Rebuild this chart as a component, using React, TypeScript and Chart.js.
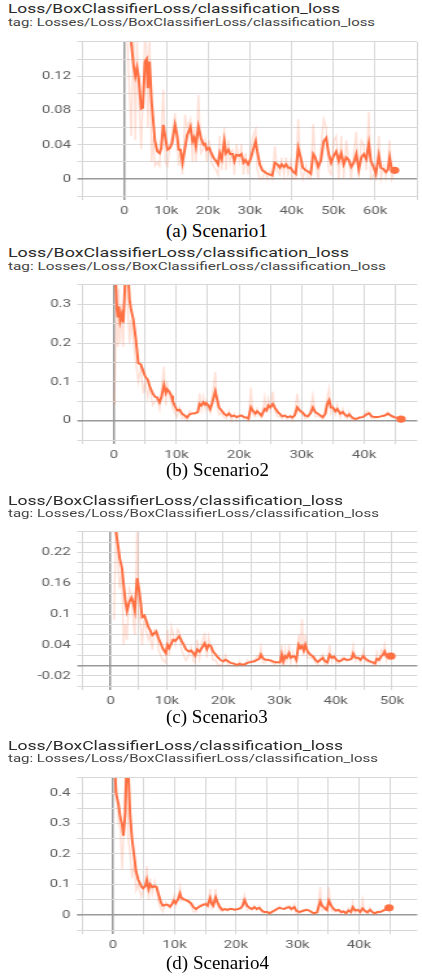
import { useEffect, useRef } from "react";
import { Chart, registerables } from "chart.js";

Chart.register(...registerables);

// ---------------- Scenario 1 ----------------
const s1StepK = [
  0.4, 1.6, 2.2, 2.6, 3.0, 3.4, 4.0, 4.4, 4.9, 5.3,
  5.6, 6.0, 6.5, 6.9, 7.3, 7.9, 8.4, 8.8, 9.3, 9.8,
  10.3, 10.9, 11.4, 12.1, 12.6, 13.0, 13.4, 13.9, 14.5, 15.0,
  15.8, 16.3, 16.7, 17.1, 17.7, 18.3, 18.9, 19.3, 19.7, 20.3,
  20.8, 21.3, 21.9, 22.4, 22.8, 23.3, 23.9, 24.3, 24.9, 25.3,
  25.9, 26.3, 26.8, 27.5, 28.0, 28.5, 29.0, 29.6, 30.2, 30.8,
  31.4, 31.8, 32.4, 33.0, 33.6, 34.2, 34.8, 35.4, 36.0, 36.6,
  37.2, 37.6, 38.2, 38.7, 39.2, 39.8, 40.3, 41.0, 41.6, 42.2,
  42.7, 43.4, 43.9, 44.6, 45.2, 45.7, 46.4, 47.0, 47.7, 48.3,
  48.9, 49.5, 50.1, 50.7, 51.3, 51.9, 52.5, 53.1, 53.7, 54.3,
  54.9, 55.5, 56.1, 56.7, 57.3, 57.9, 58.5, 59.0, 59.7, 60.2,
  60.9, 61.4, 62.1, 62.6, 63.1, 63.5, 64.0, 64.7,
];
const s1Smoothed = [
  0.26, 0.16, 0.131, 0.12, 0.13, 0.118, 0.082, 0.083, 0.137, 0.14,
  0.106, 0.137, 0.09, 0.067, 0.044, 0.032, 0.03, 0.036, 0.063, 0.048,
  0.034, 0.036, 0.042, 0.063, 0.051, 0.034, 0.034, 0.019, 0.036, 0.051,
  0.061, 0.044, 0.048, 0.038, 0.061, 0.048, 0.04, 0.041, 0.034, 0.036,
  0.03, 0.025, 0.021, 0.017, 0.03, 0.023, 0.044, 0.03, 0.034, 0.029,
  0.029, 0.021, 0.028, 0.027, 0.029, 0.019, 0.022, 0.017, 0.023, 0.034,
  0.044, 0.032, 0.017, 0.01, 0.008, 0.006, 0.005, 0.004, 0.019, 0.017,
  0.013, 0.017, 0.014, 0.017, 0.013, 0.013, 0.009, 0.006, 0.036, 0.025,
  0.013, 0.01, 0.009, 0.006, 0.029, 0.025, 0.014, 0.021, 0.044, 0.048,
  0.029, 0.019, 0.027, 0.032, 0.021, 0.03, 0.017, 0.025, 0.022, 0.014,
  0.019, 0.029, 0.011, 0.025, 0.029, 0.023, 0.041, 0.021, 0.013, 0.006,
  0.027, 0.013, 0.011, 0.008, 0.011, 0.025, 0.011, 0.01,
];
const s1Raw = [
  0.2, 0.05, 0.17, 0.045, 0.16, 0.1, 0.035, 0.09, 0.17, 0.15,
  0.06, 0.17, 0.02, 0.05, 0.015, 0.02, 0.015, 0.05, 0.104, 0.02,
  0.015, 0.04, 0.05, 0.077, 0.04, 0.015, 0.035, 0.005, 0.075, 0.06,
  0.07, 0.02, 0.06, 0.02, 0.098, 0.03, 0.035, 0.045, 0.02, 0.045,
  0.02, 0.015, 0.01, 0.005, 0.05, 0.01, 0.06, 0.01, 0.045, 0.02,
  0.035, 0.005, 0.04, 0.02, 0.04, 0.005, 0.03, 0.005, 0.035, 0.05,
  0.058, 0.01, 0.0, 0.0, 0.01, 0.0, 0.008, 0.0, 0.038, 0.01,
  0.005, 0.025, 0.005, 0.025, 0.005, 0.02, 0.0, 0.0, 0.07, 0.01,
  0.0, 0.015, 0.002, 0.0, 0.064, 0.02, 0.0, 0.035, 0.07, 0.06,
  0.01, 0.005, 0.045, 0.05, 0.0, 0.05, 0.0, 0.045, 0.02, 0.0,
  0.03, 0.055, 0.0, 0.045, 0.04, 0.01, 0.078, 0.0, 0.005, 0.0,
  0.05, 0.0, 0.015, 0.002, 0.02, 0.045, 0.0, 0.01,
];
const s1XTickValues = [0, 10000, 20000, 30000, 40000, 50000, 60000];
const s1XTickLabels = ["0", "10k", "20k", "30k", "40k", "50k", "60k"];
const s1YTickValues = [0, 0.04, 0.08, 0.12];
const s1YTickLabels = ["0", "0.04", "0.08", "0.12"];

// ---------------- Scenario 2 ----------------
const s2StepK = [
  0.1, 0.47, 0.63, 0.79, 1.0, 1.26, 1.5, 1.8, 2.2, 2.5,
  2.7, 3.1, 3.5, 3.9, 4.3, 4.7, 5.0, 5.4, 5.7, 6.2,
  6.6, 6.9, 7.3, 7.6, 8.0, 8.3, 8.5, 8.8, 9.2, 9.4,
  9.7, 10.1, 10.5, 10.9, 11.3, 11.7, 12.1, 12.5, 13.0, 13.4,
  13.7, 14.0, 14.3, 14.6, 14.8, 15.1, 15.4, 15.7, 16.2, 16.5,
  16.8, 17.2, 17.6, 18.0, 18.4, 18.8, 19.2, 19.6, 19.9, 20.4,
  20.8, 21.2, 21.5, 21.9, 22.2, 22.6, 22.9, 23.3, 23.6, 24.1,
  24.4, 24.7, 25.0, 25.4, 25.7, 26.2, 26.6, 26.9, 27.3, 27.7,
  28.2, 28.5, 28.9, 29.3, 29.7, 30.1, 30.6, 31.0, 31.4, 31.8,
  32.2, 32.6, 33.0, 33.4, 33.8, 34.1, 34.4, 34.7, 35.0, 35.4,
  35.7, 36.2, 36.6, 36.9, 37.3, 37.6, 38.0, 38.4, 38.8, 39.3,
  39.8, 40.4, 40.8, 41.2, 41.7, 42.2, 42.7, 43.3, 43.8, 44.3,
  44.8, 45.4, 45.9,
];
const s2Smoothed = [
  0.42, 0.287, 0.266, 0.295, 0.257, 0.274, 0.253, 0.36, 0.4, 0.312,
  0.29, 0.261, 0.211, 0.148, 0.145, 0.127, 0.114, 0.106, 0.089, 0.07,
  0.061, 0.06, 0.047, 0.06, 0.092, 0.072, 0.081, 0.076, 0.064, 0.051,
  0.039, 0.026, 0.028, 0.018, 0.013, 0.008, 0.016, 0.018, 0.019, 0.022,
  0.043, 0.039, 0.047, 0.041, 0.045, 0.039, 0.03, 0.045, 0.076, 0.055,
  0.034, 0.026, 0.018, 0.013, 0.018, 0.011, 0.013, 0.009, 0.011, 0.013,
  0.009, 0.008, 0.005, 0.034, 0.026, 0.018, 0.024, 0.018, 0.013, 0.03,
  0.026, 0.039, 0.034, 0.043, 0.034, 0.022, 0.016, 0.011, 0.013, 0.009,
  0.011, 0.008, 0.013, 0.034, 0.026, 0.022, 0.013, 0.011, 0.018, 0.034,
  0.022, 0.018, 0.013, 0.009, 0.018, 0.043, 0.053, 0.034, 0.034, 0.024,
  0.03, 0.018, 0.022, 0.016, 0.011, 0.016, 0.009, 0.005, 0.005, 0.008,
  0.009, 0.016, 0.019, 0.011, 0.009, 0.009, 0.011, 0.013, 0.018, 0.013,
  0.009, 0.007, 0.004,
];
const s2Raw = [
  0.04, 0.35, 0.19, 0.34, 0.2, 0.3, 0.19, 0.4, 0.3, 0.2,
  0.26, 0.21, 0.15, 0.1, 0.14, 0.07, 0.1, 0.06, 0.09, 0.04,
  0.05, 0.055, 0.03, 0.08, 0.139, 0.04, 0.1, 0.065, 0.045, 0.03,
  0.02, 0.01, 0.035, 0.005, 0.008, 0.0, 0.025, 0.02, 0.02, 0.025,
  0.07, 0.03, 0.06, 0.03, 0.05, 0.03, 0.02, 0.06, 0.125, 0.04,
  0.015, 0.02, 0.008, 0.005, 0.025, 0.0, 0.018, 0.003, 0.015, 0.016,
  0.004, 0.007, 0.0, 0.085, 0.015, 0.01, 0.03, 0.012, 0.008, 0.06,
  0.02, 0.055, 0.03, 0.075, 0.025, 0.01, 0.01, 0.005, 0.016, 0.004,
  0.013, 0.0, 0.02, 0.07, 0.02, 0.018, 0.005, 0.008, 0.025, 0.065,
  0.01, 0.012, 0.008, 0.003, 0.03, 0.06, 0.083, 0.02, 0.035, 0.015,
  0.04, 0.008, 0.03, 0.01, 0.005, 0.022, 0.002, 0.0, 0.004, 0.01,
  0.01, 0.025, 0.022, 0.005, 0.006, 0.008, 0.013, 0.015, 0.022, 0.01,
  0.006, 0.005, 0.003,
];
const s2XTickValues = [0, 10000, 20000, 30000, 40000];
const s2XTickLabels = ["0", "10k", "20k", "30k", "40k"];
const s2YTickValues = [0, 0.1, 0.2, 0.3];
const s2YTickLabels = ["0", "0.1", "0.2", "0.3"];

// ---------------- Scenario 3 ----------------
const s3StepK = [
  0.6, 1.0, 1.3, 1.6, 2.0, 2.3, 2.6, 2.9, 3.3, 3.7,
  4.0, 4.3, 4.7, 5.0, 5.3, 5.6, 6.0, 6.3, 6.7, 7.0,
  7.4, 7.7, 8.1, 8.5, 8.9, 9.3, 9.8, 10.1, 10.4, 10.8,
  11.1, 11.5, 11.9, 12.2, 12.6, 13.0, 13.4, 13.9, 14.3, 14.7,
  15.0, 15.4, 15.8, 16.2, 16.7, 17.1, 17.4, 17.8, 18.2, 18.7,
  19.1, 19.6, 20.0, 20.4, 20.9, 21.3, 21.8, 22.2, 22.5, 22.9,
  23.3, 23.8, 24.3, 24.7, 25.1, 25.6, 26.0, 26.4, 26.7, 27.0,
  27.4, 27.9, 28.4, 28.8, 29.2, 29.6, 30.1, 30.4, 30.7, 31.0,
  31.3, 31.7, 32.0, 32.4, 32.7, 33.0, 33.4, 33.7, 34.0, 34.3,
  34.6, 35.0, 35.5, 36.0, 36.4, 36.8, 37.2, 37.7, 38.1, 38.5,
  38.9, 39.3, 39.7, 40.2, 40.6, 41.0, 41.5, 41.9, 42.4, 42.8,
  43.1, 43.5, 44.0, 44.4, 44.9, 45.3, 45.7, 46.1, 46.6, 47.0,
  47.3, 47.7, 48.1, 48.4, 48.7, 49.0, 49.4, 49.8,
];
const s3Smoothed = [
  0.3, 0.256, 0.234, 0.209, 0.19, 0.158, 0.126, 0.106, 0.123, 0.132,
  0.123, 0.107, 0.17, 0.151, 0.126, 0.094, 0.097, 0.088, 0.075, 0.069,
  0.059, 0.062, 0.066, 0.053, 0.043, 0.032, 0.024, 0.04, 0.034, 0.043,
  0.05, 0.048, 0.053, 0.057, 0.048, 0.04, 0.031, 0.027, 0.029, 0.024,
  0.019, 0.031, 0.027, 0.034, 0.043, 0.032, 0.04, 0.038, 0.027, 0.021,
  0.015, 0.01, 0.008, 0.011, 0.008, 0.005, 0.004, 0.002, 0.001, 0.003,
  0.002, 0.002, 0.005, 0.006, 0.007, 0.008, 0.011, 0.013, 0.021, 0.015,
  0.011, 0.011, 0.01, 0.008, 0.006, 0.006, 0.006, 0.021, 0.008, 0.018,
  0.015, 0.024, 0.015, 0.018, 0.017, 0.011, 0.04, 0.034, 0.038, 0.029,
  0.04, 0.027, 0.021, 0.017, 0.011, 0.007, 0.01, 0.015, 0.008, 0.006,
  0.021, 0.015, 0.017, 0.01, 0.008, 0.01, 0.013, 0.011, 0.011, 0.013,
  0.023, 0.015, 0.015, 0.011, 0.018, 0.013, 0.01, 0.008, 0.006, 0.004,
  0.013, 0.011, 0.018, 0.021, 0.027, 0.018, 0.021, 0.018,
];
const s3Raw = [
  0.088, 0.3, 0.2, 0.15, 0.18, 0.04, 0.08, 0.05, 0.15, 0.14,
  0.09, 0.06, 0.28, 0.1, 0.08, 0.04, 0.1, 0.07, 0.05, 0.06,
  0.03, 0.07, 0.07, 0.03, 0.02, 0.01, 0.005, 0.07, 0.02, 0.075,
  0.06, 0.04, 0.07, 0.065, 0.03, 0.02, 0.01, 0.02, 0.035, 0.01,
  0.005, 0.05, 0.015, 0.045, 0.06, 0.015, 0.055, 0.035, 0.01, 0.01,
  0.0, 0.0, 0.005, 0.02, 0.0, 0.0, 0.0, -0.002, -0.002, 0.008,
  0.0, 0.0, 0.01, 0.008, 0.01, 0.01, 0.018, 0.018, 0.035, 0.005,
  0.005, 0.01, 0.008, 0.004, 0.002, 0.006, 0.004, 0.04, 0.0, 0.03,
  0.01, 0.04, 0.005, 0.025, 0.015, 0.003, 0.06, 0.03, 0.09, 0.02,
  0.06, 0.015, 0.015, 0.012, 0.005, 0.002, 0.015, 0.022, 0.002, 0.002,
  0.04, 0.008, 0.02, 0.004, 0.004, 0.014, 0.017, 0.008, 0.011, 0.016,
  0.038, 0.008, 0.016, 0.006, 0.028, 0.008, 0.006, 0.005, 0.003, 0.0,
  0.025, 0.008, 0.03, 0.025, 0.04, 0.01, 0.025, 0.015,
];
const s3XTickValues = [0, 10000, 20000, 30000, 40000, 50000];
const s3XTickLabels = ["0", "10k", "20k", "30k", "40k", "50k"];
const s3YTickValues = [-0.02, 0.04, 0.1, 0.16, 0.22];
const s3YTickLabels = ["-0.02", "0.04", "0.1", "0.16", "0.22"];

// ---------------- Scenario 4 ----------------
const s4StepK = [
  0.27, 0.5, 0.9, 1.2, 1.5, 1.7, 2.0, 2.2, 2.5, 2.8,
  3.1, 3.5, 3.75, 4.1, 4.6, 4.9, 5.25, 5.5, 5.8, 6.05,
  6.4, 6.8, 7.1, 7.4, 7.8, 8.1, 8.6, 8.9, 9.3, 9.6,
  9.9, 10.2, 10.6, 10.9, 11.1, 11.5, 11.9, 12.3, 12.7, 13.1,
  13.5, 13.9, 14.4, 14.7, 15.1, 15.4, 15.8, 16.1, 16.3, 16.7,
  17.0, 17.4, 17.8, 18.2, 18.6, 19.0, 19.4, 19.8, 20.4, 20.8,
  21.1, 21.4, 21.8, 22.2, 22.6, 23.0, 23.4, 23.8, 24.2, 24.6,
  25.1, 25.5, 25.8, 26.3, 26.7, 27.1, 27.4, 27.9, 28.2, 28.7,
  29.0, 29.5, 29.8, 30.3, 30.6, 31.1, 31.5, 31.9, 32.3, 32.7,
  33.2, 33.7, 34.0, 34.3, 34.6, 34.8, 35.1, 35.5, 35.9, 36.3,
  36.7, 37.1, 37.5, 37.9, 38.3, 38.7, 39.0, 39.4, 39.8, 40.2,
  40.6, 40.9, 41.4, 41.8, 42.2, 42.6, 43.0, 43.4, 43.8, 44.2,
  44.6, 44.9,
];
const s4Smoothed = [
  0.5, 0.4, 0.362, 0.319, 0.293, 0.26, 0.335, 0.48, 0.47, 0.325,
  0.25, 0.185, 0.143, 0.116, 0.094, 0.087, 0.094, 0.114, 0.084, 0.1,
  0.091, 0.094, 0.091, 0.068, 0.041, 0.03, 0.033, 0.033, 0.027, 0.035,
  0.046, 0.038, 0.051, 0.07, 0.057, 0.051, 0.048, 0.044, 0.038, 0.025,
  0.019, 0.025, 0.03, 0.033, 0.035, 0.03, 0.055, 0.035, 0.03, 0.057,
  0.041, 0.025, 0.016, 0.019, 0.016, 0.019, 0.019, 0.017, 0.019, 0.022,
  0.03, 0.048, 0.03, 0.023, 0.019, 0.025, 0.019, 0.023, 0.014, 0.009,
  0.009, 0.005, 0.009, 0.014, 0.019, 0.023, 0.021, 0.019, 0.023, 0.025,
  0.019, 0.025, 0.014, 0.009, 0.011, 0.014, 0.016, 0.014, 0.009, 0.005,
  0.008, 0.044, 0.03, 0.025, 0.019, 0.016, 0.046, 0.03, 0.019, 0.014,
  0.016, 0.009, 0.011, 0.005, 0.014, 0.009, 0.025, 0.014, 0.016, 0.009,
  0.021, 0.014, 0.008, 0.016, 0.009, 0.005, 0.009, 0.009, 0.012, 0.016,
  0.019, 0.023,
];
const s4Raw = [
  0.4, 0.45, 0.3, 0.28, 0.15, 0.25, 0.45, 0.5, 0.25, 0.2,
  0.12, 0.17, 0.08, 0.1, 0.06, 0.08, 0.1, 0.16, 0.05, 0.12,
  0.07, 0.11, 0.08, 0.04, 0.02, 0.01, 0.04, 0.03, 0.02, 0.04,
  0.06, 0.03, 0.06, 0.09, 0.045, 0.05, 0.045, 0.04, 0.03, 0.01,
  0.01, 0.03, 0.035, 0.035, 0.04, 0.025, 0.085, 0.02, 0.025, 0.085,
  0.03, 0.015, 0.01, 0.022, 0.012, 0.022, 0.018, 0.015, 0.022, 0.025,
  0.04, 0.065, 0.015, 0.02, 0.015, 0.03, 0.015, 0.028, 0.008, 0.005,
  0.01, 0.002, 0.012, 0.018, 0.024, 0.028, 0.02, 0.018, 0.028, 0.03,
  0.014, 0.035, 0.005, 0.005, 0.013, 0.017, 0.019, 0.012, 0.005, 0.002,
  0.01, 0.091, 0.015, 0.02, 0.015, 0.013, 0.09, 0.015, 0.01, 0.01,
  0.018, 0.004, 0.013, 0.002, 0.022, 0.005, 0.04, 0.005, 0.018, 0.004,
  0.05, 0.008, 0.004, 0.024, 0.004, 0.002, 0.012, 0.009, 0.015, 0.02,
  0.022, 0.026,
];
const s4XTickValues = [0, 10000, 20000, 30000, 40000];
const s4XTickLabels = ["0", "10k", "20k", "30k", "40k"];
const s4YTickValues = [0, 0.1, 0.2, 0.3, 0.4];
const s4YTickLabels = ["0", "0.1", "0.2", "0.3", "0.4"];

// ---------------- shared text ----------------
const TITLE = "Loss/BoxClassifierLoss/classification_loss";
const TAG = "tag: Losses/Loss/BoxClassifierLoss/classification_loss";

// ---------------- styling / layout ----------------
const CW = 325; // internal canvas width (screenshots are stretched horizontally)
const SX = 422 / CW;
const PAD = 8;
const XH = 24;
const ORANGE = "#ff7043";
const RAW = "rgba(255,112,67,0.22)";
const GRID = "#d8d8d8";
const ZERO = "#999999";
const TICK_COLOR = "#5f5f5f";
const SANS = "Roboto, 'Liberation Sans', Arial, sans-serif";
const SERIF = "'Liberation Serif', 'Times New Roman', serif";

type Panel = {
  stepK: number[]; smooth: number[]; raw: number[];
  xTicks: number[]; xLabels: string[]; yTicks: number[]; yLabels: string[];
  caption: string;
  xMin: number; xMax: number; xStep: number; yMin: number; yMax: number; yStep: number;
  plotTop: number; plotBottom: number; plotLeft: number; plotRight: number;
  titleLeft: number; titleBase: number; titleW: number; tagBase: number; tagW: number;
  capBase: number; capLeft: number;
};

const PANELS: Panel[] = [
  {
    stepK: s1StepK, smooth: s1Smoothed, raw: s1Raw,
    xTicks: s1XTickValues, xLabels: s1XTickLabels, yTicks: s1YTickValues, yLabels: s1YTickLabels,
    caption: "(a) Scenario1",
    xMin: -10000, xMax: 70000, xStep: 10000, yMin: -0.02, yMax: 0.16, yStep: 0.02,
    plotTop: 38, plotBottom: 196, plotLeft: 82.7, plotRight: 420,
    titleLeft: 8.3, titleBase: 13.3, titleW: 332, tagBase: 26.7, tagW: 367, capBase: 236.6, capLeft: 166,
  },
  {
    stepK: s2StepK, smooth: s2Smoothed, raw: s2Raw,
    xTicks: s2XTickValues, xLabels: s2XTickLabels, yTicks: s2YTickValues, yLabels: s2YTickLabels,
    caption: "(b) Scenario2",
    xMin: -5000, xMax: 48500, xStep: 5000, yMin: -0.05, yMax: 0.35, yStep: 0.05,
    plotTop: 281, plotBottom: 440, plotLeft: 82.6, plotRight: 421.5,
    titleLeft: 7.5, titleBase: 256.7, titleW: 341, tagBase: 270, tagW: 378, capBase: 475.9, capLeft: 166,
  },
  {
    stepK: s3StepK, smooth: s3Smoothed, raw: s3Raw,
    xTicks: s3XTickValues, xLabels: s3XTickLabels, yTicks: s3YTickValues, yLabels: s3YTickLabels,
    caption: "(c) Scenario3",
    xMin: -5000, xMax: 54500, xStep: 5000, yMin: -0.04, yMax: 0.26, yStep: 0.02,
    plotTop: 528, plotBottom: 686, plotLeft: 82.5, plotRight: 421.7,
    titleLeft: 8.3, titleBase: 505, titleW: 335, tagBase: 517.3, tagW: 371, capBase: 723.2, capLeft: 166,
  },
  {
    stepK: s4StepK, smooth: s4Smoothed, raw: s4Raw,
    xTicks: s4XTickValues, xLabels: s4XTickLabels, yTicks: s4YTickValues, yLabels: s4YTickLabels,
    caption: "(d) Scenario4",
    xMin: -5000, xMax: 49500, xStep: 5000, yMin: -0.05, yMax: 0.45, yStep: 0.05,
    plotTop: 774, plotBottom: 930, plotLeft: 82.2, plotRight: 421.2,
    titleLeft: 8.3, titleBase: 750, titleW: 335, tagBase: 762.3, tagW: 370, capBase: 969.2, capLeft: 166,
  },
];

let measureCtx: CanvasRenderingContext2D | null = null;
function textWidth(text: string, font: string): number {
  if (!measureCtx) measureCtx = document.createElement("canvas").getContext("2d");
  if (!measureCtx) return 1;
  measureCtx.font = font;
  return measureCtx.measureText(text).width || 1;
}

function FitText(props: {
  text: string; left: number; baseline: number; width: number; size: number; color: string;
}) {
  const { text, left, baseline, width, size, color } = props;
  const k = width / textWidth(text, `${size}px ${SANS}`);
  return (
    <div
      style={{
        position: "absolute", left, top: baseline - size * 0.842, fontFamily: SANS,
        fontSize: size, lineHeight: `${size}px`, color, whiteSpace: "nowrap",
        transform: `scaleX(${k})`, transformOrigin: "0 0",
      }}
    >
      {text}
    </div>
  );
}

function labelFor(values: number[], labels: string[], v: number, eps: number): string {
  const i = values.findIndex((t) => Math.abs(t - v) < eps);
  return i >= 0 ? labels[i] : "";
}

// grid positions every `step` between the axis bounds
function gridTicks(min: number, max: number, step: number) {
  const out: { value: number }[] = [];
  for (let k = Math.ceil(min / step - 1e-9); k * step <= max + step * 1e-9; k++) {
    out.push({ value: Math.round(k * step * 1e6) / 1e6 });
  }
  return out;
}

function PanelChart({ p }: { p: Panel }) {
  const ref = useRef<HTMLCanvasElement>(null);
  const canvasTop = p.plotTop - PAD;
  const canvasH = p.plotBottom - p.plotTop + PAD + XH;

  useEffect(() => {
    const canvas = ref.current;
    if (!canvas) return;
    const last = p.stepK.length - 1;
    const isZero = (c: any) => c.tick && Math.abs(c.tick.value) < 1e-9;
    const chart = new Chart(canvas, {
      type: "line",
      data: {
        datasets: [
          {
            data: p.stepK.map((s, i) => ({ x: s * 1000, y: p.raw[i] })),
            borderColor: RAW, borderWidth: 1.4, pointRadius: 0, tension: 0, clip: 0,
          },
          {
            data: p.stepK.map((s, i) => ({ x: s * 1000, y: p.smooth[i] })),
            borderColor: ORANGE, borderWidth: 2, tension: 0, clip: 0,
            pointRadius: (c: any) => (c.dataIndex === last ? 3.6 : 0),
            pointBackgroundColor: ORANGE, pointBorderWidth: 0, pointHoverRadius: 0,
          },
        ],
      },
      options: {
        responsive: false, animation: false, devicePixelRatio: 1,
        events: [],
        layout: { padding: { top: PAD, right: (422 - p.plotRight) / SX, left: 0, bottom: 0 } },
        plugins: { legend: { display: false }, tooltip: { enabled: false }, title: { display: false } },
        scales: {
          x: {
            type: "linear", min: p.xMin, max: p.xMax,
            afterBuildTicks: (s: any) => { s.ticks = gridTicks(p.xMin, p.xMax, p.xStep); },
            afterFit: (s: any) => { s.height = XH; },
            border: { display: false },
            grid: {
              color: (c: any) => (isZero(c) ? ZERO : GRID),
              lineWidth: (c: any) => (isZero(c) ? 1.5 : 1),
              tickLength: 4,
            },
            ticks: {
              autoSkip: false, maxRotation: 0, minRotation: 0,
              padding: 4, color: TICK_COLOR, font: { family: SANS, size: 11.5 },
              callback: (v: any) => labelFor(p.xTicks, p.xLabels, Number(v), p.xStep / 100),
            },
          },
          y: {
            type: "linear", min: p.yMin, max: p.yMax,
            afterBuildTicks: (s: any) => { s.ticks = gridTicks(p.yMin, p.yMax, p.yStep); },
            afterFit: (s: any) => { s.width = p.plotLeft / SX; },
            border: { display: false },
            grid: {
              color: (c: any) => (isZero(c) ? ZERO : GRID),
              lineWidth: (c: any) => (isZero(c) ? 1.6 : 1),
              tickLength: 4,
            },
            ticks: {
              autoSkip: false,
              padding: 5, color: TICK_COLOR, font: { family: SANS, size: 11.5 },
              callback: (v: any) => labelFor(p.yTicks, p.yLabels, Number(v), p.yStep / 100),
            },
          },
        },
      },
    } as any);
    return () => chart.destroy();
  }, [p]);

  return (
    <>
      <FitText text={TITLE} left={p.titleLeft} baseline={p.titleBase} width={p.titleW} size={13} color="#2b2b2b" />
      <FitText text={TAG} left={p.titleLeft} baseline={p.tagBase} width={p.tagW} size={10} color="#444" />
      <canvas
        ref={ref}
        width={CW}
        height={canvasH}
        style={{ position: "absolute", left: 0, top: canvasTop, width: "422px", height: `${canvasH}px` }}
      />
      <div
        style={{
          position: "absolute", left: p.capLeft, top: p.capBase - 19 * 0.8375, fontFamily: SERIF,
          fontSize: 19, lineHeight: "19px", color: "#000", whiteSpace: "nowrap",
        }}
      >
        {p.caption}
      </div>
    </>
  );
}

export default function App() {
  return (
    <div
      style={{
        position: "absolute", left: 0, top: 0, width: 422, height: 977,
        background: "#fff", overflow: "hidden",
      }}
    >
      {PANELS.map((p, i) => (
        <PanelChart key={i} p={p} />
      ))}
    </div>
  );
}
